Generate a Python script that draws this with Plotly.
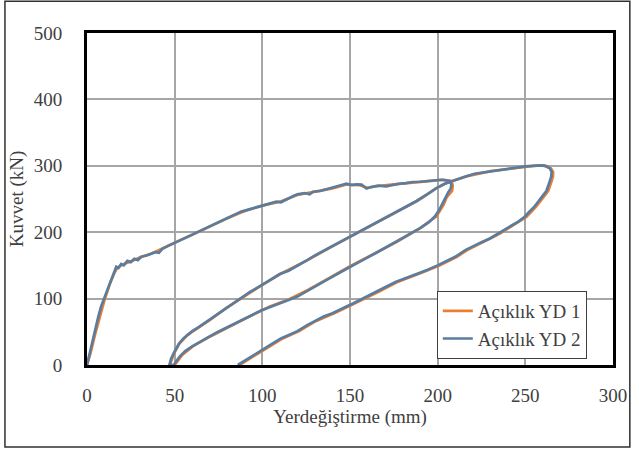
import plotly.graph_objects as go

# Açıklık YD 2 (blue)
yd2_x = [0, 1.5, 3, 4.5, 6.4, 8, 10, 12, 14, 15.5, 16.7, 18, 19.5, 21, 23, 25, 27, 29, 31, 34, 36.4, 39, 41, 43, 46, 50,
         54, 58, 62, 66, 70, 74, 78, 82, 85, 88, 92, 96, 100, 104, 108, 110.6, 114, 118, 120, 124, 127, 129, 133, 137,
         141, 144, 148, 151, 154, 156.6, 158, 159.4, 162, 166, 170.7, 174, 178, 182, 185.7, 190, 194, 198.9, 202, 205, 207,
         207.8, 207.5, 206, 204.5, 203, 201, 198.5, 195, 190, 186, 181, 176, 170, 165, 158, 150, 144, 138, 132, 125.6,
         120, 115, 110, 104, 99.3, 94, 90, 85, 78.7, 74, 70, 65, 60, 56, 53, 51, 49.5,
         47, 48, 49.5, 51, 52.4, 55, 57, 60, 63.7, 67, 70, 74, 78.7, 83, 88, 93, 97.5, 103, 110, 115, 120, 125.6, 130,
         135, 140, 145, 150, 156, 163, 170, 176, 182, 188, 194, 199, 204, 208, 212, 216, 221, 226, 230, 235, 240, 245,
         250, 254, 257, 260, 262, 264, 265, 264.8, 264, 263, 262, 260, 258, 255, 252, 249.6, 246, 242, 238, 234.5, 230,
         225, 220, 215.8, 210, 205, 200, 194, 188, 182, 176, 170, 165, 160, 157.6, 152, 148, 144, 140, 135, 129.4,
         125.6, 120, 115, 110.6, 105, 100, 97.5, 95, 92, 89, 86]
yd2_y = [0, 18, 36, 52, 72, 88, 102, 115, 130, 141, 148, 146, 152, 150, 157, 155, 160, 158, 163, 165, 168, 170, 169, 175, 179, 184,
         189, 194, 198, 203, 209, 214, 219, 224, 227, 231, 234, 237, 240, 242, 246, 245, 250, 255, 257, 259, 257, 261, 262, 265,
         267, 270, 273, 271, 272, 271.7, 269, 265.7, 268, 270, 269, 271, 273, 274, 275.6, 276, 277, 278, 279, 278, 277,
         272, 266, 260, 252, 243, 234, 224, 215, 206, 200, 192, 185, 176, 169, 159, 148, 139, 130, 121, 112,
         103, 98, 93, 87, 82, 75, 70, 64, 55, 49, 43, 36, 28, 21, 13, 6, 0,
         0, 10, 18, 26, 32, 40, 45, 51, 57, 63, 68, 76, 85, 93, 101, 110, 117, 126, 137, 142, 149, 158, 165,
         172, 179, 186, 193, 202, 212, 222, 230, 238, 247, 257, 266, 273, 277, 280, 284, 288, 290, 292, 294, 295.6, 297,
         299, 300, 300.7, 300.5, 299.5, 296, 291, 284, 277, 270, 262, 255, 248, 238, 230, 223, 216, 210, 204, 198, 191,
         185, 178, 173, 163, 156, 150, 143, 137, 131, 125, 117, 110, 104, 100, 93, 88, 83, 78, 73, 66,
         60, 51, 45, 40, 31, 23, 18, 14, 10, 5, 0]

# Açıklık YD 1 (orange)
yd1_x = [0, 2, 4.5, 7, 10, 13, 15.5, 17.5, 20, 25, 30, 36, 43, 50, 60, 70, 80, 90, 100, 110, 120, 130, 140, 148, 155, 160,
         167, 175, 185, 195, 203, 208,
         208.6, 208.2, 205, 203.5, 199.3, 190.5, 176.5, 165.3, 150.3, 138.3, 126, 115.3, 104.3, 90.3, 79, 70.3, 60.3, 54.3, 50,
         47.2, 49.7, 52.6, 57.2, 63.9, 70.2, 78.9, 88.2, 97.7, 110.2, 125.8, 140.2, 150.2, 163.2, 176.2, 188.2, 199.2, 204.2,
         208.3, 216.3, 230.2, 240.3, 250.3, 257.3, 261, 264.6, 265.8, 266, 265.8, 265, 264, 263, 261, 259, 256, 250.6,
         243, 235.5, 226, 216.8, 211, 201, 189, 177, 166, 158.6, 149, 141, 130.4, 121, 111.6, 101, 93, 87]
yd1_y = [0, 18, 45, 70, 98, 122, 138, 147, 151, 156, 162, 167, 175, 184, 196, 209, 221, 232, 240, 246, 256, 261, 266, 272, 271, 267,
         270, 272, 275, 277, 279, 277,
         270, 262, 252, 242, 224, 207, 185, 170, 149, 131, 113, 99, 88, 70, 55, 43, 28, 15, 0,
         0, 18, 32, 45, 57, 68, 85, 101, 117, 137, 158, 179, 193, 212, 230, 247, 266, 273,
         277, 284, 292, 295.6, 299, 300.7, 299.8, 296, 291, 287, 284, 277, 270, 262, 255, 248, 238, 223,
         210, 198, 185, 173, 163, 150, 137, 125, 110, 100, 88, 78, 66, 51, 40, 23, 10, 0]

x_ticks = [0, 50, 100, 150, 200, 250, 300]
y_ticks = [0, 100, 200, 300, 400, 500]

font_family = "Times New Roman, Liberation Serif, serif"
text_color = "#404040"

fig = go.Figure()
fig.add_trace(go.Scatter(x=yd1_x, y=yd1_y, mode="lines", name="Açıklık YD 1",
                         line=dict(color="#ED7D31", width=2.7)))
fig.add_trace(go.Scatter(x=yd2_x, y=yd2_y, mode="lines", name="Açıklık YD 2",
                         line=dict(color="#5A7D9F", width=2.7)))

fig.update_layout(
    width=639, height=450,
    margin=dict(l=87, r=20, t=33, b=85),
    paper_bgcolor="white", plot_bgcolor="white",
    font=dict(family=font_family, size=19, color=text_color),
    showlegend=True,
    legend=dict(x=0.665, y=0.223, xanchor="left", yanchor="top",
                bgcolor="white", bordercolor="#404040", borderwidth=1,
                font=dict(family=font_family, size=19, color=text_color),
                tracegroupgap=0, itemwidth=30),
    shapes=[dict(type="rect", xref="paper", yref="paper",
                 x0=-0.156, x1=1.032, y0=-0.247, y1=1.096,
                 line=dict(color="#303030", width=1.5), fillcolor="rgba(0,0,0,0)", layer="below")],
)
fig.update_xaxes(range=[0, 300], tickvals=x_ticks, showgrid=True, gridcolor="#a6a6a6", gridwidth=1.5,
                 showline=True, linecolor="black", linewidth=3, mirror=True, zeroline=False,
                 ticks="", ticklabelstandoff=11, tickfont=dict(family=font_family, size=19, color=text_color),
                 title=dict(text="Yerdeğiştirme (mm)", standoff=0, font=dict(family=font_family, size=19, color=text_color)))
fig.update_yaxes(range=[0, 500], tickvals=y_ticks, showgrid=True, gridcolor="#a6a6a6", gridwidth=1.5,
                 showline=True, linecolor="black", linewidth=3, mirror=True, zeroline=False,
                 ticks="", ticklabelstandoff=18, tickfont=dict(family=font_family, size=19, color=text_color),
                 title=dict(text="Kuvvet (kN)", standoff=6, font=dict(family=font_family, size=19, color=text_color)))

fig.write_html("out.html")
